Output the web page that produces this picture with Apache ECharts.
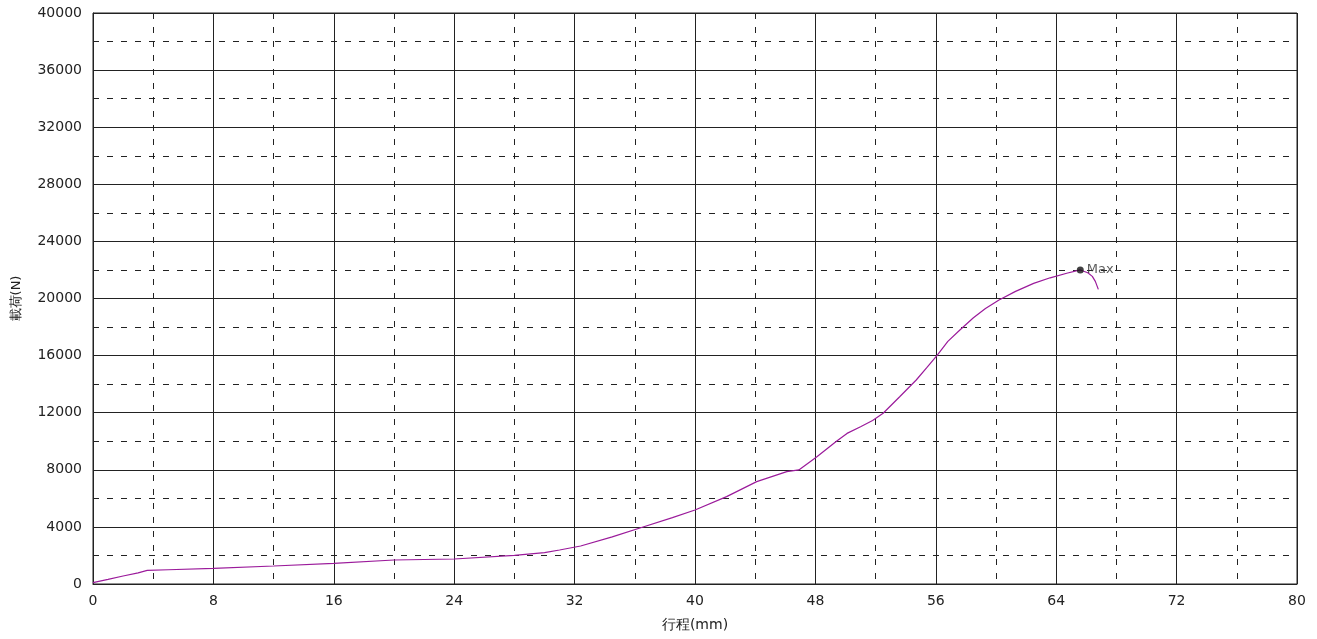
<!DOCTYPE html>
<html><head><meta charset="utf-8">
<script src="https://cdn.jsdelivr.net/npm/echarts@6/dist/echarts.min.js"></script>
<style>html,body{margin:0;padding:0;background:#fff}#c{width:1317px;height:639px}</style>
</head><body><div id="c"></div>
<script>
const travel = [0, 1, 2, 3, 3.6, 5, 8, 12, 16, 20, 24, 28, 30, 31, 32.4, 34.5, 36.6, 38.5, 40, 42.1, 44.1, 46.1, 46.9, 48.1, 49.4, 50.1, 51, 51.8, 52.5, 53.6, 54.7, 55.4, 56.1, 56.8, 57.6, 58.5, 59.3, 60.2, 61.3, 62.5, 63.6, 64.7, 65.6, 66.1, 66.4, 66.6, 66.8];
const load = [100, 320, 560, 780, 950, 1000, 1100, 1260, 1450, 1680, 1750, 2000, 2200, 2380, 2660, 3300, 4010, 4650, 5180, 6120, 7170, 7870, 7990, 8920, 10000, 10550, 11020, 11450, 11960, 13120, 14290, 15150, 16040, 17000, 17790, 18650, 19300, 19900, 20500, 21060, 21450, 21770, 22000, 21800, 21550, 21200, 20640];
const maxPoint = [65.6, 22000];
const xName = '行程(mm)';
const yName = '載荷(N)';

const font = 'DejaVu Sans';
const chart = echarts.init(document.getElementById('c'));
chart.setOption({
  animation: false,
  grid: {left: 93, right: 20, top: 13, bottom: 55, show: true, borderColor: '#222', borderWidth: 1, backgroundColor: 'transparent'},
  xAxis: {
    type: 'value', min: 0, max: 80, interval: 8,
    name: xName, nameLocation: 'middle', nameGap: 34,
    nameTextStyle: {fontFamily: font, fontSize: 14, color: '#222'},
    axisLine: {show: true, lineStyle: {color: '#222'}},
    axisTick: {show: false},
    axisLabel: {fontFamily: font, fontSize: 14, color: '#222', margin: 10, formatter: v => String(v)},
    splitLine: {show: true, lineStyle: {color: '#222', width: 1}},
    minorTick: {show: false, splitNumber: 2},
    minorSplitLine: {show: true, lineStyle: {color: '#222', type: [6, 8], width: 1}}
  },
  yAxis: {
    type: 'value', min: 0, max: 40000, interval: 4000,
    name: yName, nameLocation: 'middle', nameGap: 70,
    nameTextStyle: {fontFamily: font, fontSize: 13, color: '#222'},
    axisLine: {show: true, lineStyle: {color: '#222'}},
    axisTick: {show: false},
    axisLabel: {fontFamily: font, fontSize: 14, color: '#222', margin: 11, formatter: v => String(v)},
    splitLine: {show: true, lineStyle: {color: '#222', width: 1}},
    minorTick: {show: false, splitNumber: 2},
    minorSplitLine: {show: true, lineStyle: {color: '#222', type: [6, 8], width: 1}}
  },
  series: [
    {type: 'line', data: travel.map((x, i) => [x, load[i]]), showSymbol: false, smooth: false,
     lineStyle: {color: '#9b1b9b', width: 1.2}, z: 3},
    {type: 'scatter', data: [maxPoint], symbolSize: 7, itemStyle: {color: '#111'},
     label: {show: true, formatter: 'Max', position: 'right', distance: 3, fontFamily: font, fontSize: 13, color: '#333'}, z: 4}
  ]
});
</script>
</body></html>
